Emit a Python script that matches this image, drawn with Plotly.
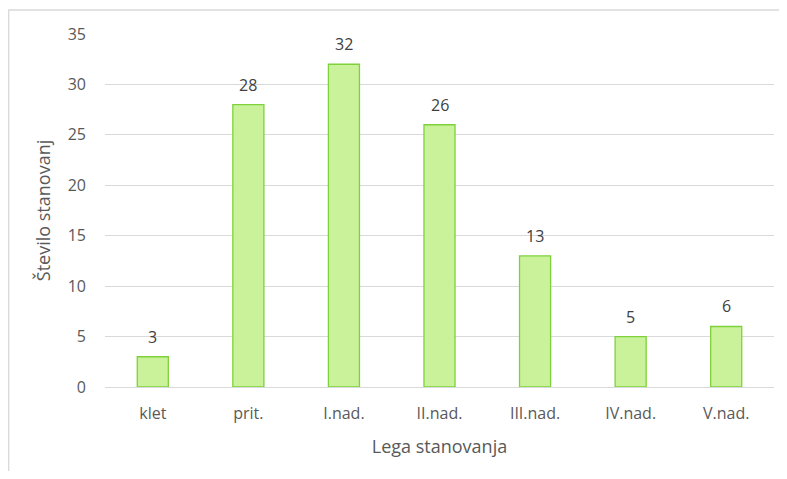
import plotly.graph_objects as go

categories = ["klet", "prit.", "I.nad.", "II.nad.", "III.nad.", "IV.nad.", "V.nad."]
values = [3, 28, 32, 26, 13, 5, 6]
y_ticks = [0, 5, 10, 15, 20, 25, 30, 35]

# page has an 8px body margin, so the figure is sized to fit inside the window
W, H = 771, 463
L, R, T, B = 97, 5, 26, 84
pw, ph = W - L - R, H - T - B

def px_to_paper_x(px):
    return (px - L) / pw

def px_to_paper_y(py):
    return (H - B - py) / ph

FONT = "Open Sans"

fig = go.Figure()
fig.add_trace(go.Bar(
    x=categories, y=values,
    marker=dict(color="#C9F29B", line=dict(color="#7FD13B", width=1.3)),
    width=0.325,
    hoverinfo="x+y",
))

for c, v in zip(categories, values):
    fig.add_annotation(x=c, y=v, text=str(v), showarrow=False, yanchor="bottom",
                       yshift=7, font=dict(size=16, color="#404040", family=FONT))

# chart frame (light gray)
fig.add_shape(type="rect", xref="paper", yref="paper",
              x0=px_to_paper_x(0.7), x1=px_to_paper_x(W + 10),
              y0=px_to_paper_y(H + 10), y1=px_to_paper_y(2),
              line=dict(color="#D9D9D9", width=1.3), fillcolor="rgba(0,0,0,0)", layer="below")

fig.update_layout(
    width=W, height=H,
    margin=dict(l=L, r=R, t=T, b=B, pad=0),
    paper_bgcolor="white", plot_bgcolor="white",
    font=dict(family=FONT, size=16, color="#595959"),
    showlegend=False,
    xaxis=dict(
        title=dict(text="Lega stanovanja", font=dict(size=18, color="#595959"), standoff=17),
        showgrid=False, showline=False, ticks="", tickfont=dict(size=16, color="#595959"),
        ticklabelstandoff=15,
    ),
    yaxis=dict(
        title=dict(text="Število stanovanj", font=dict(size=18, color="#595959"), standoff=12),
        range=[0, 35], tickvals=y_ticks, showgrid=True, gridcolor="#D9D9D9", gridwidth=1,
        zeroline=True, zerolinecolor="#D9D9D9", zerolinewidth=1,
        showline=False, ticks="", tickfont=dict(size=16, color="#595959"),
        ticklabelstandoff=18,
    ),
)

fig.write_html("out.html")
